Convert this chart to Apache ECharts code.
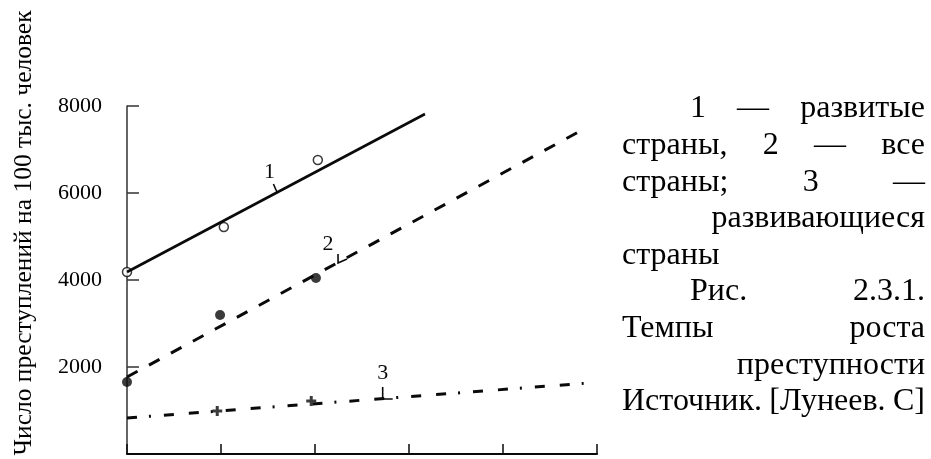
<!DOCTYPE html>
<html>
<head>
<meta charset="utf-8">
<script src="https://cdn.jsdelivr.net/npm/echarts@6/dist/echarts.min.js"></script>
<style>
  html, body { margin: 0; padding: 0; background: #fff; }
  #chart { width: 931px; height: 459px; }
</style>
</head>
<body>
<div id="chart"></div>
<script>
// data: [x position, crimes per 100k]
const developedLine = [[0, 4184], [3.17, 7816]]
const developedPoints = [[0, 4184], [1.03, 5218], [2.03, 6759]]
const allLine = [[0, 1770], [4.9, 7517]]
const allPoints = [[0, 1655], [0.99, 3195], [2.01, 4046]]
const developingLine = [[0, 828], [4.91, 1632]]
const developingPoints = [[0.96, 989], [1.96, 1218]]

// curve numbers and where their leader touches the curve
const curveNames = ['1', '2', '3']
const curveAnchors = [[1.6, 6000], [2.245, 4391], [2.72, 1264]]

const yTicks = [0, 2000, 4000, 6000, 8000]
const yTitle = 'Число преступлений на 100 тыс. человек'

const noteLines = [
  ['1', '—', 'развитые'],
  ['страны,', '2', '—', 'все'],
  ['страны;', '3', '—'],
  ['развивающиеся'],
  ['страны'],
  ['Рис.', '2.3.1.'],
  ['Темпы', 'роста'],
  ['преступности'],
  ['Источник.', '[Лунеев.', 'С]']
]

const ink = '#0a0a0a'
const serif = '"Liberation Serif", "Times New Roman", serif'

// label offsets / leader shapes relative to the anchor
const markStyles = [
  { dx: -8, dy: -21, leader: [[-4, -9], [0, 0]] },
  { dx: -10, dy: -19, leader: [[0, -9], [0, 0], [9, -4]] },
  { dx: 0, dy: -26, leader: [[0, -12], [0, 0], [10, 0]] }
]

// right-hand caption, justified like the original page
const noteLeft = 622
const noteRight = 925
const noteTop = 109
const noteStep = 36.6
const noteFont = '32px ' + serif
const noteAlign = ['indent', 'justify', 'justify', 'right', 'left', 'indent', 'justify', 'right', 'justify']

const measure = document.createElement('canvas').getContext('2d')
measure.font = noteFont

function noteGraphics() {
  const out = []
  noteLines.forEach((words, i) => {
    const y = noteTop + i * noteStep
    const widths = words.map(w => measure.measureText(w).width)
    const mode = noteAlign[i]
    let xs = []
    if (mode === 'right') {
      xs = [noteRight - widths[0]]
    } else if (mode === 'left' || words.length === 1) {
      xs = [noteLeft]
    } else {
      const start = mode === 'indent' ? noteLeft + 68 : noteLeft
      const total = widths.reduce((a, b) => a + b, 0)
      const gap = (noteRight - start - total) / (words.length - 1)
      let x = start
      widths.forEach(w => { xs.push(x); x += w + gap })
    }
    words.forEach((w, k) => {
      out.push({
        type: 'text',
        x: xs[k],
        y: y,
        style: { text: w, font: noteFont, fill: '#000', align: 'left', verticalAlign: 'middle' }
      })
    })
  })
  return out
}

const chart = echarts.init(document.getElementById('chart'))

chart.setOption({
  animation: false,
  backgroundColor: '#fff',
  grid: {
    left: 127,
    right: 334,
    top: 106,
    bottom: 5,
    outerBoundsMode: 'none'
  },
  xAxis: {
    type: 'value',
    min: 0,
    max: 5,
    interval: 1,
    axisLine: { show: true, lineStyle: { color: ink, width: 2 } },
    axisTick: { show: true, inside: true, length: 10, lineStyle: { color: ink, width: 1.5 } },
    axisLabel: { show: false },
    splitLine: { show: false }
  },
  yAxis: {
    type: 'value',
    min: yTicks[0],
    max: yTicks[yTicks.length - 1],
    interval: yTicks[1] - yTicks[0],
    axisLine: { show: true, lineStyle: { color: '#333', width: 1.5 } },
    axisTick: { show: true, inside: true, length: 12, lineStyle: { color: '#333', width: 1.5 } },
    axisLabel: {
      showMinLabel: false,
      margin: 25,
      color: '#000',
      fontFamily: serif,
      fontSize: 22,
      formatter: v => String(v)
    },
    splitLine: { show: false }
  },
  graphic: [
    {
      type: 'text',
      x: 24,
      y: 233,
      rotation: Math.PI / 2,
      style: { text: yTitle, font: '25.5px ' + serif, fill: '#000', align: 'center', verticalAlign: 'middle' }
    }
  ].concat(noteGraphics()),
  series: [
    {
      type: 'line',
      data: developedLine,
      symbol: 'none',
      lineStyle: { color: ink, width: 2.6 }
    },
    {
      type: 'scatter',
      data: developedPoints,
      symbol: 'circle',
      symbolSize: 9,
      itemStyle: { color: '#fff', borderColor: ink, borderWidth: 1.5 }
    },
    {
      type: 'line',
      data: allLine,
      symbol: 'none',
      lineStyle: { color: ink, width: 3, type: [12, 13] }
    },
    {
      type: 'scatter',
      data: allPoints,
      symbol: 'circle',
      symbolSize: 10,
      itemStyle: { color: ink }
    },
    {
      type: 'line',
      data: developingLine,
      symbol: 'none',
      lineStyle: { color: ink, width: 3, type: [10, 12, 2, 13, 10, 15] }
    },
    {
      type: 'scatter',
      data: developingPoints,
      symbol: 'path://M3.5,0H6.5V3.5H10V6.5H6.5V10H3.5V6.5H0V3.5H3.5Z',
      symbolSize: 10,
      itemStyle: { color: ink }
    },
    {
      type: 'custom',
      data: curveAnchors,
      z: 5,
      renderItem: (params, api) => {
        const p = api.coord([api.value(0), api.value(1)])
        const s = markStyles[params.dataIndex]
        return {
          type: 'group',
          x: p[0],
          y: p[1],
          children: [
            {
              type: 'polyline',
              shape: { points: s.leader },
              style: { stroke: ink, lineWidth: 1.6, fill: null }
            },
            {
              type: 'text',
              x: s.dx,
              y: s.dy,
              style: {
                text: curveNames[params.dataIndex],
                font: '22px ' + serif,
                fill: ink,
                align: 'center',
                verticalAlign: 'middle'
              }
            }
          ]
        }
      }
    }
  ]
})
</script>
</body>
</html>
